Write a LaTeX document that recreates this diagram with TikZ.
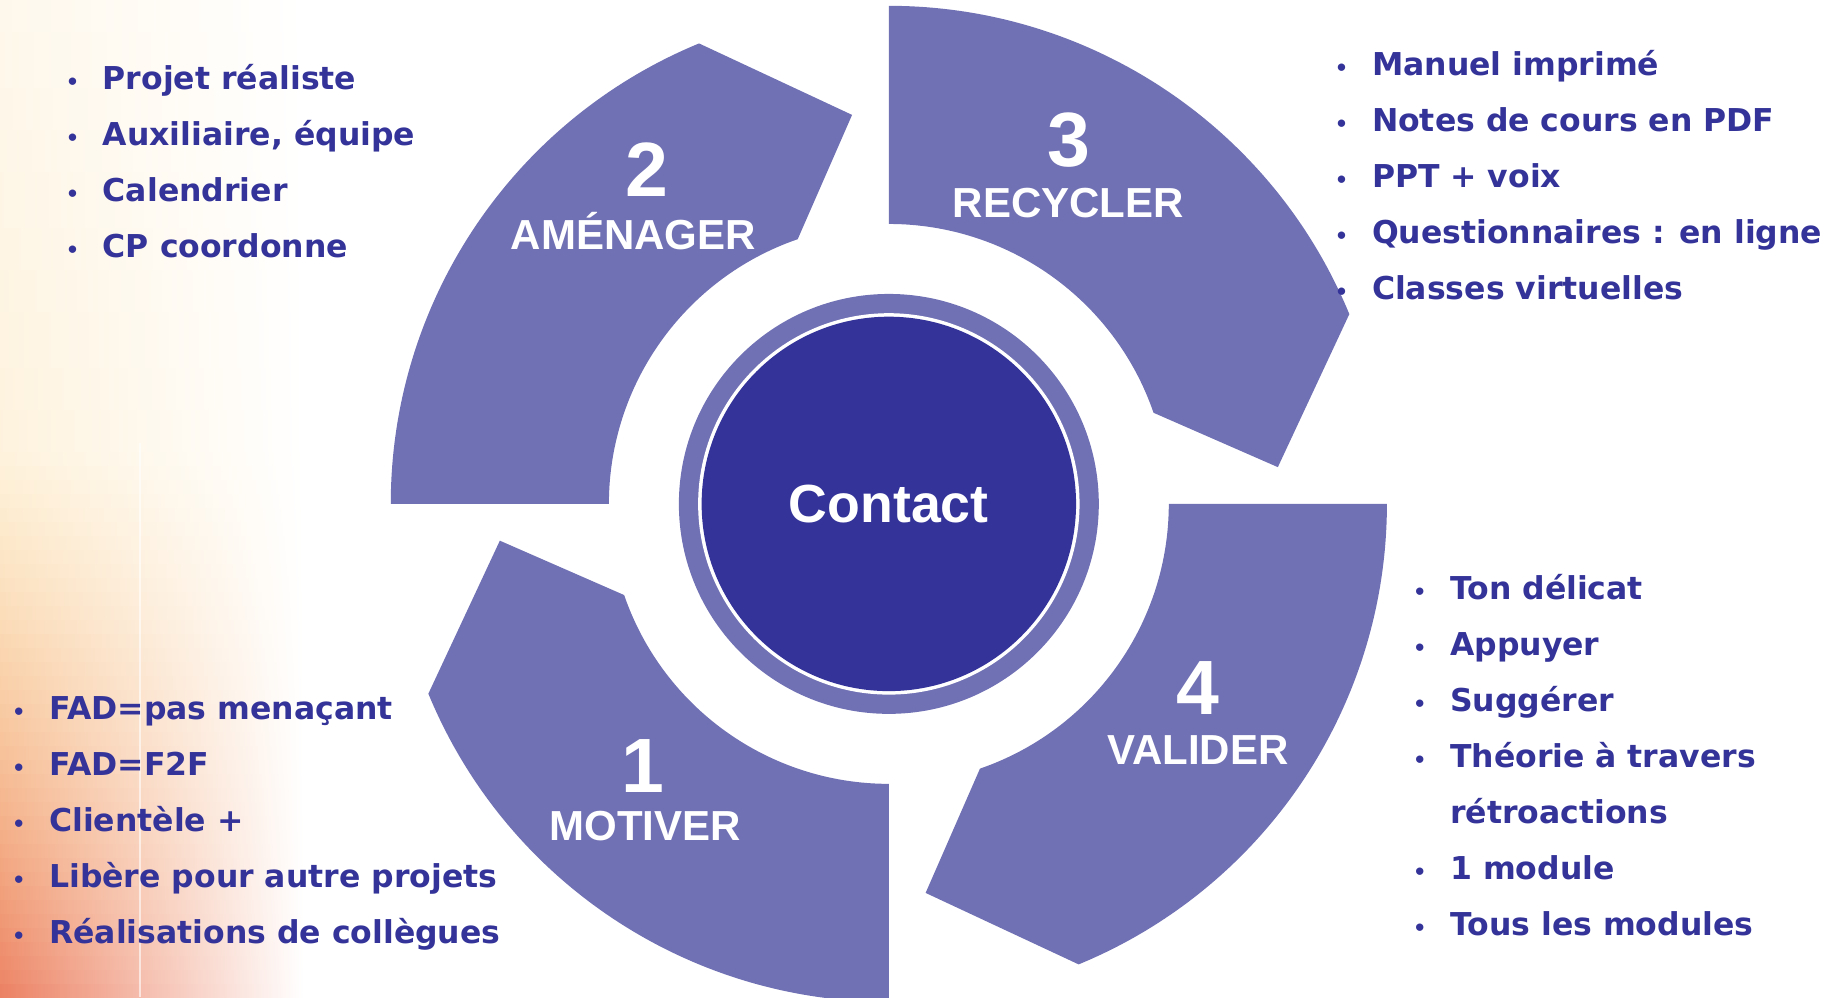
\documentclass[tikz,border=0pt]{standalone}
\usepackage{fontspec}
\setmainfont{Liberation Sans}
\newfontfamily\listfont{DejaVu Sans}
\definecolor{segcolor}{RGB}{112,112,180}
\definecolor{darkblue}{RGB}{51,51,153}
\definecolor{warmorange}{RGB}{236,130,100}
\definecolor{warmyellow}{RGB}{250,195,95}
\newcommand{\bul}{\makebox[52pt]{\fontsize{18}{18}\selectfont\textbullet}}
\newcommand{\nobul}{\hspace*{52pt}}

\begin{document}
\begin{tikzpicture}[x = 1pt, y = 1pt]
	\tikzstyle{segStyle} = [fill = segcolor]
	\tikzstyle{numStyle} = [text = white, font = \fontsize{66}{66}\selectfont\bfseries, inner sep = 0pt]
	\tikzstyle{wordStyle} = [text = white, font = \fontsize{36}{36}\selectfont\bfseries, inner sep = 0pt]
	\tikzstyle{listStyle} = [text = darkblue, font = \listfont\bfseries\fontsize{27}{48}\selectfont, align = left, inner sep = 0pt, anchor = base west]
	\useasboundingbox (0,0) rectangle (1568,855);
	% warm background on the left
	\foreach \y [evaluate = \y as \p using {int(\y < 456 ? max(100-\y*0.17,22) : max(22-(\y-456)*0.025,12))},
		evaluate = \y as \m using {int(max(100-\y*0.22,0))}] in {0,12,...,852}
		\fill[left color = warmorange!\m!warmyellow!\p!white, middle color = warmyellow!\p!white, right color = white] (0,\y) rectangle (260,\y+13);
	\fill[white, opacity = 0.6] (119,0) rectangle (121,475);
	% four arrow segments
	\begin{scope}[shift = {(762,423)}]
	\foreach \s in {270, 180, 90, 0}
		\fill[segStyle] (\s:240) -- (\s:427) arc[start angle = \s, end angle = \s-67.6, radius = 427]
			-- (\s-84.6:335) -- (\s-71:240) arc[start angle = \s-71, end angle = \s, radius = 240] -- cycle;
	\end{scope}
	% centre
	\node[circle, fill = segcolor, minimum size = 360pt, inner sep = 0pt] (ring) at (762,423) {};
	\node[circle, fill = white, minimum size = 327pt, inner sep = 0pt] (gap) at (762,423) {};
	\node[circle, fill = darkblue, minimum size = 321pt, inner sep = 0pt, text = white, font = \fontsize{46}{46}\selectfont\bfseries] (contact) at (762,423) {Contact};
	% numbers and words
	\node[numStyle] (n1) at (551,198) {1};
	\node[wordStyle] (w1) at (553,147) {MOTIVER};
	\node[numStyle] (n2) at (555,710) {2};
	\node[wordStyle] (w2) at (543,657) {AMÉNAGER};
	\node[numStyle] (n3) at (916,735) {3};
	\node[wordStyle] (w3) at (916,681) {RECYCLER};
	\node[numStyle] (n4) at (1027,265) {4};
	\node[wordStyle] (w4) at (1027,212) {VALIDER};
	% lists
	\node[listStyle] (l2) at (36,634) {\bul Projet réaliste\\ \bul Auxiliaire, équipe\\ \bul Calendrier\\ \bul CP coordonne};
	\node[listStyle] (l3) at (1124,598) {\bul Manuel imprimé\\ \bul Notes de cours en PDF\\ \bul PPT + voix\\ \bul Questionnaires : en ligne\\ \bul Classes virtuelles};
	\node[listStyle] (l1) at (-10,46) {\bul FAD=pas menaçant\\ \bul FAD=F2F\\ \bul Clientèle +\\ \bul Libère pour autre projets\\ \bul Réalisations de collègues};
	\node[listStyle] (l4) at (1191,53) {\bul Ton délicat\\ \bul Appuyer\\ \bul Suggérer\\ \bul Théorie à travers\\ \nobul rétroactions\\ \bul 1 module\\ \bul Tous les modules};
\end{tikzpicture}
\end{document}
